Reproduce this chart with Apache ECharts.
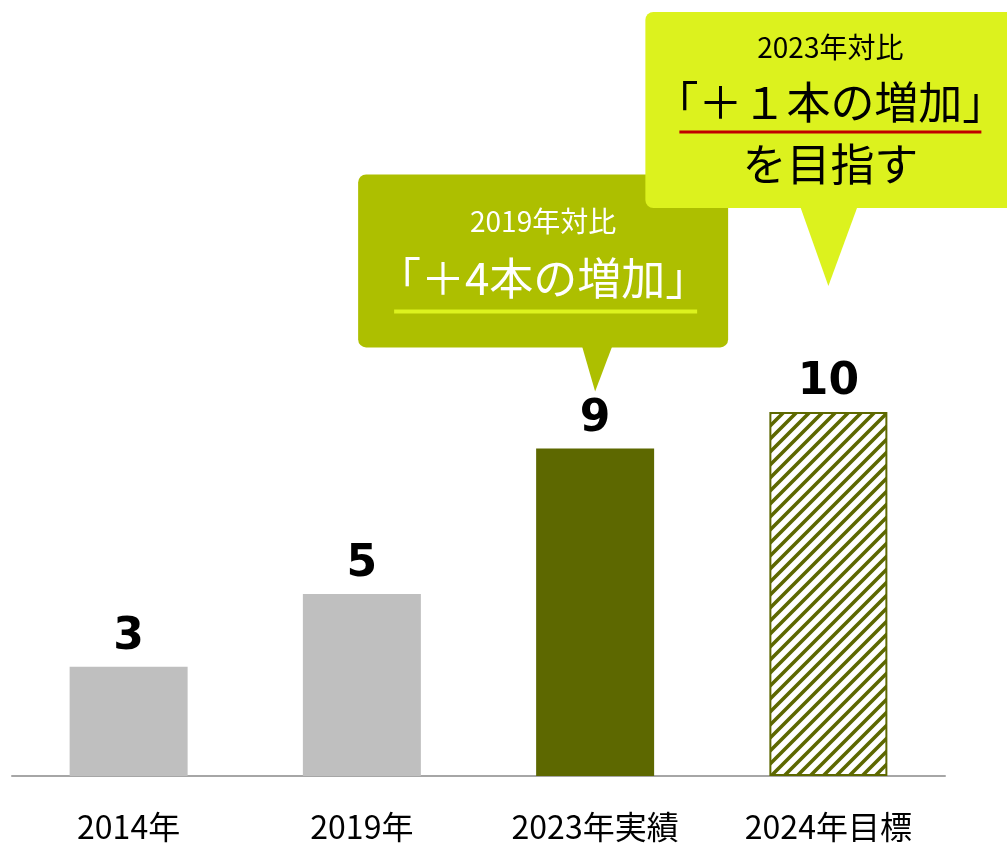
<!DOCTYPE html>
<html>
<head>
<meta charset="utf-8">
<script src="https://cdn.jsdelivr.net/npm/echarts@6/dist/echarts.min.js"></script>
<style>
  html, body { margin: 0; padding: 0; background: #ffffff; }
  #chart { width: 1007px; height: 844px; }
</style>
</head>
<body>
<div id="chart"></div>
<script>
// Number of trees per year
const categories = ['2014年', '2019年', '2023年実績', '2024年目標'];
const values = [3, 5, 9, 10];

// Speech-bubble notes attached to bars (index into categories)
const noteBars = [2, 3];
const noteSmall = ['2019年対比', '2023年対比'];
const noteBig = ['「＋4本の増加」', '「＋１本の増加」'];
const noteExtra = ['', 'を目指す'];

const OLIVE = '#5d6800';
const GRAY = '#bfbfbf';
const JP = '"Noto Sans CJK JP", "Noto Sans", sans-serif';

function hatchPattern(color) {
  const s = 13;
  const c = document.createElement('canvas');
  c.width = s; c.height = s;
  const g = c.getContext('2d');
  g.fillStyle = '#ffffff';
  g.fillRect(0, 0, s, s);
  g.strokeStyle = color;
  g.lineWidth = 3.6;
  g.beginPath();
  g.moveTo(-2, s + 2); g.lineTo(s + 2, -2);
  g.moveTo(-2, 2); g.lineTo(2, -2);
  g.moveTo(s - 2, s + 2); g.lineTo(s + 2, s - 2);
  g.stroke();
  return c;
}

const barStyles = [
  { color: GRAY },
  { color: GRAY },
  { color: OLIVE },
  { color: { image: hatchPattern(OLIVE), repeat: 'repeat' }, borderColor: OLIVE, borderWidth: 2 }
];

const chart = echarts.init(document.getElementById('chart'));

chart.setOption({
  animation: false,
  backgroundColor: '#ffffff',
  grid: { left: 12, right: 62, top: 48, bottom: 68 },
  xAxis: {
    type: 'category',
    data: categories,
    axisLine: { lineStyle: { color: '#a6a6a6', width: 2 } },
    axisTick: { show: false },
    axisLabel: { color: '#000000', fontSize: 32, fontFamily: JP, margin: 35 }
  },
  yAxis: {
    type: 'value', min: 0, max: 20,
    show: false, splitLine: { show: false }
  },
  series: [{
    type: 'bar',
    barWidth: 118,
    data: values.map((v, i) => ({ value: v, itemStyle: barStyles[i] })),
    label: {
      show: true, position: 'top', distance: 7,
      color: '#000000', fontSize: 44, fontWeight: 'bold',
      fontFamily: '"DejaVu Sans", sans-serif'
    }
  }]
});

// Bubble layouts, offsets measured from the bar's top-centre
const bubbles = [
  { fill: '#adbf00', textColor: '#ffffff', ruleColor: '#dcf21e', tipDy: -57,
    box: [-237, -217, 133, -44], base: [-13, 17], cx: -52,
    smallY: -170, bigY: -113, extraY: 0, ruleY: -80, ruleX: [-201, 102], ruleW: 4 },
  { fill: '#dcf21e', textColor: '#000000', ruleColor: '#c00000', tipDy: -126,
    box: [-183, -274, 187, -78], base: [-28, 29], cx: 2,
    smallY: -239, bigY: -184, extraY: -122, ruleY: -154, ruleX: [-149, 153], ruleW: 3 }
];

const graphics = [];
noteBars.forEach((bi, k) => {
  const b = bubbles[k];
  const p = chart.convertToPixel({ seriesIndex: 0 }, [bi, values[bi]]);
  const tx = p[0], ty = p[1] + b.tipDy;
  const x0 = tx + b.box[0], y0 = ty + b.box[1], x1 = tx + b.box[2], y1 = ty + b.box[3];
  graphics.push({
    type: 'rect', z: 10 + k * 10,
    shape: { x: x0, y: y0, width: x1 - x0, height: y1 - y0, r: 8 },
    style: { fill: b.fill }
  });
  graphics.push({
    type: 'polygon', z: 10 + k * 10,
    shape: { points: [[tx + b.base[0], y1 - 1], [tx + b.base[1], y1 - 1], [tx, ty]] },
    style: { fill: b.fill }
  });
  const cx = tx + b.cx;
  graphics.push({
    type: 'text', z: 11 + k * 10, x: cx, y: ty + b.smallY,
    style: { text: noteSmall[k], fill: b.textColor, font: '28px ' + JP, textAlign: 'center', textVerticalAlign: 'middle' }
  });
  graphics.push({
    type: 'text', z: 11 + k * 10, x: cx, y: ty + b.bigY,
    style: { text: noteBig[k], fill: b.textColor, font: '44px ' + JP, textAlign: 'center', textVerticalAlign: 'middle' }
  });
  if (noteExtra[k]) {
    graphics.push({
      type: 'text', z: 11 + k * 10, x: cx, y: ty + b.extraY,
      style: { text: noteExtra[k], fill: b.textColor, font: '44px ' + JP, textAlign: 'center', textVerticalAlign: 'middle' }
    });
  }
  graphics.push({
    type: 'line', z: 11 + k * 10,
    shape: { x1: tx + b.ruleX[0], y1: ty + b.ruleY, x2: tx + b.ruleX[1], y2: ty + b.ruleY },
    style: { stroke: b.ruleColor, lineWidth: b.ruleW }
  });
});

chart.setOption({ graphic: graphics });
</script>
</body>
</html>
